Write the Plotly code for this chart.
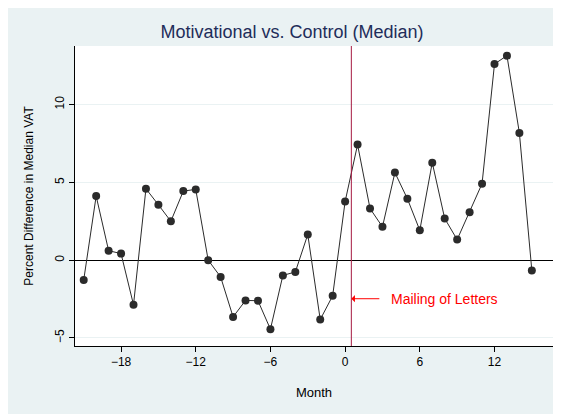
import plotly.graph_objects as go

months = [-21, -20, -19, -18, -17, -16, -15, -14, -13, -12, -11, -10, -9, -8, -7, -6,
          -5, -4, -3, -2, -1, 0, 1, 2, 3, 4, 5, 6, 7, 8, 9, 10, 11, 12, 13, 14, 15]
pct_diff = [-1.28, 4.12, 0.61, 0.42, -2.87, 4.59, 3.56, 2.5, 4.44, 4.55, 0.0, -1.08,
            -3.65, -2.59, -2.61, -4.44, -0.98, -0.76, 1.65, -3.82, -2.29, 3.77, 7.43,
            3.32, 2.14, 5.63, 3.95, 1.92, 6.27, 2.68, 1.32, 3.08, 4.92, 12.61, 13.15,
            8.18, -0.66]
x_ticks = [-18, -12, -6, 0, 6, 12]
y_ticks = [-5, 0, 5, 10]
mailing_month = 0.5

BG = "#EAF2F3"
FONT = "Liberation Sans, Arial, sans-serif"
W, H = 553, 406

fig = go.Figure()
fig.add_trace(go.Scatter(
    x=months, y=pct_diff, mode="lines+markers",
    line=dict(color="#2b2b2b", width=1),
    marker=dict(color="#2b2b2b", size=8),
    showlegend=False, cliponaxis=False,
))

# mailing line
fig.add_shape(type="line", xref="x", yref="paper", x0=mailing_month, x1=mailing_month,
              y0=0, y1=1, line=dict(color="#A51A42", width=1))

fig.add_annotation(x=mailing_month, y=-2.48, xref="x", yref="y",
                   ax=31, ay=0, axref="pixel", ayref="pixel",
                   text=" ", showarrow=True, arrowhead=1, arrowsize=1.2,
                   arrowwidth=1, arrowcolor="#FF0000")
fig.add_annotation(x=3.55, y=-2.48, xref="x", yref="y", xanchor="left",
                   text="Mailing of Letters", showarrow=False,
                   font=dict(color="#FF0000", size=14, family=FONT))

fig.update_layout(
    width=W, height=H,
    margin=dict(l=67, r=8, t=38, b=68, autoexpand=False),
    paper_bgcolor=BG, plot_bgcolor="white",
    font=dict(family=FONT, size=12, color="black"),
    title=dict(text="Motivational vs. Control (Median)", x=284 / W, xanchor="center",
               y=1 - 24 / H, yanchor="middle",
               font=dict(size=18, color="#1E2D5A", family=FONT)),
    xaxis=dict(range=[-21.7, 16.7], tickvals=x_ticks, ticks="outside", ticklen=5,
               tickcolor="black", showline=True, linecolor="black", linewidth=1,
               showgrid=False, zeroline=False, automargin=False,
               title=dict(text="Month", standoff=19, font=dict(size=13))),
    yaxis=dict(range=[-5.52, 13.77], tickvals=y_ticks, ticks="outside", ticklen=5,
               tickcolor="black", tickangle=-90, showline=True, linecolor="black",
               linewidth=1, showgrid=True, gridcolor=BG, gridwidth=1,
               zeroline=True, zerolinecolor="black", zerolinewidth=1, automargin=False,
               title=dict(text="Percent Difference in Median VAT", standoff=17,
                          font=dict(size=12))),
)

fig.write_html("out.html")
